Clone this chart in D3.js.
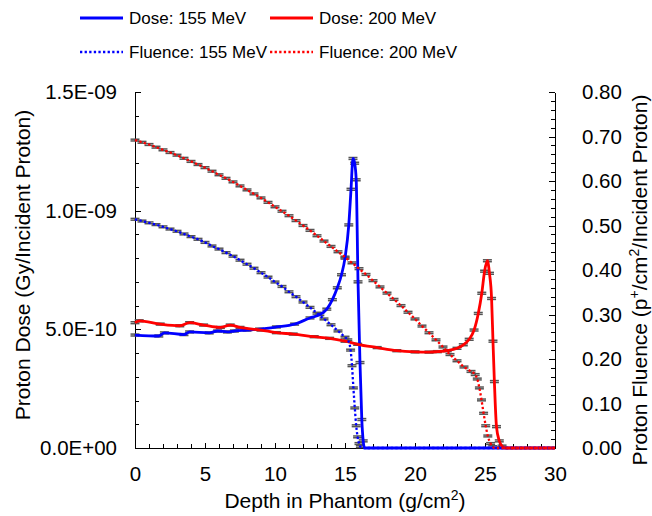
<!DOCTYPE html>
<html>
<head>
<meta charset="utf-8">
<script src="https://cdn.jsdelivr.net/npm/d3@7"></script>
<style>
  body { margin: 0; background: #fff; }
  text { font-family: "Liberation Sans", Arial, sans-serif; fill: #000; }
  .axis path, .axis line { stroke: #000; shape-rendering: crispEdges; }
  .axis path { stroke-width: 1.5px; }
</style>
</head>
<body>
<div class="plot_canvas"></div>
<script>

// [depth g/cm2, dose Gy/incident proton]
var dose155 = [[0,4.76e-10],[1.7,4.72e-10],[2.1,4.85e-10],[3.5,4.78e-10],[3.9,4.89e-10],[5.3,4.85e-10],
  [5.9,4.93e-10],[6.6,4.89e-10],[7.1,4.93e-10],[8.0,4.97e-10],[8.9,5.01e-10],[10.1,5.10e-10],[11.4,5.22e-10],
  [12.5,5.48e-10],[13.2,5.62e-10],[13.7,5.85e-10],[14.1,6.25e-10],[14.45,6.75e-10],[14.75,7.3e-10],[15.0,8.0e-10],
  [15.27,9.4e-10],[15.43,10.9e-10],[15.57,12.2e-10],[15.69,12.0e-10],[15.8,11.3e-10],[15.93,7.0e-10],
  [16.07,3.6e-10],[16.2,1.2e-10],[16.3,0.3e-10],[16.4,0],[30,0]];

var dose200 = [[0,5.28e-10],[0.3,5.36e-10],[1.8,5.22e-10],[3.2,5.15e-10],[3.9,5.28e-10],[4.9,5.18e-10],
  [6.1,5.08e-10],[6.8,5.18e-10],[7.5,5.08e-10],[9.0,4.97e-10],[10.1,4.86e-10],[11.3,4.80e-10],[12.8,4.69e-10],
  [13.9,4.62e-10],[15.0,4.50e-10],[15.9,4.37e-10],[17.3,4.23e-10],[18.7,4.10e-10],[20.0,4.05e-10],[21.0,4.04e-10],
  [21.6,4.06e-10],[22.3,4.10e-10],[23.0,4.20e-10],[23.45,4.35e-10],[23.87,4.58e-10],[24.22,4.97e-10],[24.52,5.67e-10],
  [24.77,6.52e-10],[24.97,7.45e-10],[25.17,7.89e-10],[25.32,7.36e-10],[25.47,6.3e-10],[25.57,4.5e-10],
  [25.67,2.8e-10],[25.82,0.9e-10],[26.02,0.3e-10],[26.22,0.08e-10],[26.42,0],[30,0]];

// [depth g/cm2, fluence p+/cm2/incident proton]
var flu155 = [[0,0.514],[0.5,0.510],[1,0.506],[1.5,0.502],[2,0.497],[2.5,0.492],[3,0.487],[3.5,0.481],
  [4,0.475],[4.5,0.469],[5,0.462],[5.5,0.454],[6,0.447],[6.5,0.439],[7,0.431],[7.5,0.422],[8,0.413],
  [8.5,0.404],[9,0.394],[9.5,0.384],[10,0.373],[10.5,0.363],[11,0.351],[11.5,0.340],[12,0.328],[12.5,0.316],
  [13,0.303],[13.5,0.290],[14,0.277],[14.5,0.263],[15,0.249],[15.2,0.243],[15.4,0.220],[15.5,0.185],
  [15.6,0.135],[15.7,0.090],[15.8,0.050],[15.9,0.025],[16.0,0.010],[16.1,0.003],[16.2,0],[30,0]];

var flu200 = [[0,0.692],[0.5,0.687],[1,0.682],[1.5,0.676],[2,0.670],[2.5,0.664],[3,0.658],[3.5,0.651],
  [4,0.644],[4.5,0.637],[5,0.630],[5.5,0.622],[6,0.614],[6.5,0.606],[7,0.598],[7.5,0.589],[8,0.580],
  [8.5,0.571],[9,0.562],[9.5,0.552],[10,0.542],[10.5,0.532],[11,0.522],[11.5,0.511],[12,0.500],[12.5,0.489],
  [13,0.477],[13.5,0.465],[14,0.453],[14.5,0.441],[15,0.429],[15.5,0.416],[16,0.403],[16.5,0.390],[17,0.376],
  [17.5,0.362],[18,0.348],[18.5,0.334],[19,0.320],[19.5,0.305],[20,0.290],[20.5,0.274],[21,0.259],[21.5,0.243],
  [22,0.227],[22.5,0.210],[23,0.196],[23.5,0.182],[24,0.172],[24.3,0.165],[24.45,0.155],[24.6,0.135],
  [24.75,0.108],[24.9,0.078],[25.05,0.050],[25.2,0.027],[25.4,0.010],[25.55,0.003],[25.7,0],[30,0]];

var doseErr = 4e-12;
var fluErr = 0.002;

var xTicks = [0, 5, 10, 15, 20, 25, 30];
var doseTicks = [0, 5e-10, 1e-9, 1.5e-9];
var fluTicks = [0, 0.1, 0.2, 0.3, 0.4, 0.5, 0.6, 0.7, 0.8];

var legendLabels = ["Dose: 155 MeV", "Dose: 200 MeV", "Fluence: 155 MeV", "Fluence: 200 MeV"];
var legendColors = ["#0000ff", "#ff0000", "#0000ff", "#ff0000"];

var W = 652, H = 516;
var plot = {left: 135, right: 555, top: 92, bottom: 448};

var svg = d3.select(".plot_canvas").append("svg")
  .attr("width", W).attr("height", H);

var xScale = d3.scaleLinear().domain([0, 30]).range([plot.left, plot.right]);
var yDose = d3.scaleLinear().domain([0, 1.5e-9]).range([plot.bottom, plot.top]);
var yFlu = d3.scaleLinear().domain([0, 0.8]).range([plot.bottom, plot.top]);

function expFormat(v) {
  var s = v.toExponential(1).split("e");
  var e = parseInt(s[1], 10);
  var ee = String(Math.abs(e));
  if (ee.length < 2) ee = "0" + ee;
  return s[0] + "E" + (e < 0 ? "-" : "+") + ee;
}

// minor ticks
svg.append("g").attr("class", "axis")
  .attr("transform", "translate(" + plot.left + ",0)")
  .call(d3.axisLeft(yDose).tickValues(d3.range(0, 16).map(function(i) { return i * 1e-10; }))
    .tickSize(-4).tickSizeOuter(0).tickFormat(""));
svg.append("g").attr("class", "axis")
  .attr("transform", "translate(" + plot.right + ",0)")
  .call(d3.axisRight(yFlu).tickValues(d3.range(0, 41).map(function(i) { return i * 0.02; }))
    .tickSize(-4).tickSizeOuter(0).tickFormat(""));
svg.append("g").attr("class", "axis")
  .attr("transform", "translate(0," + plot.bottom + ")")
  .call(d3.axisBottom(xScale).tickValues(d3.range(0, 31))
    .tickSize(-4).tickSizeOuter(0).tickFormat(""));

// major ticks + labels
svg.append("g").attr("class", "axis")
  .attr("transform", "translate(" + plot.left + ",0)")
  .call(d3.axisLeft(yDose).tickValues(doseTicks).tickSize(-6).tickSizeOuter(0)
    .tickPadding(18).tickFormat(expFormat));
svg.append("g").attr("class", "axis")
  .attr("transform", "translate(" + plot.right + ",0)")
  .call(d3.axisRight(yFlu).tickValues(fluTicks).tickSize(-6).tickSizeOuter(0)
    .tickPadding(27).tickFormat(d3.format(".2f")));
svg.append("g").attr("class", "axis")
  .attr("transform", "translate(0," + plot.bottom + ")")
  .call(d3.axisBottom(xScale).tickValues(xTicks).tickSize(-5).tickSizeOuter(0)
    .tickPadding(18).tickFormat(d3.format("d")));

svg.selectAll(".axis text").style("font-size", "20.5px").style("font-family", "'Liberation Sans', Arial, sans-serif");

// axis titles
var xt = svg.append("text").attr("x", 345).attr("y", 508)
  .attr("text-anchor", "middle").style("font-size", "21px");
xt.append("tspan").text("Depth in Phantom (g/cm");
xt.append("tspan").attr("dy", -8).style("font-size", "14px").text("2");
xt.append("tspan").attr("dy", 8).text(")");

svg.append("text")
  .attr("transform", "translate(30,265) rotate(-90)")
  .attr("text-anchor", "middle").style("font-size", "21px")
  .text("Proton Dose (Gy/Incident Proton)");

var rt = svg.append("text")
  .attr("transform", "translate(647,280) rotate(-90)")
  .attr("text-anchor", "middle").style("font-size", "21px");
rt.append("tspan").text("Proton Fluence (p");
rt.append("tspan").attr("dy", -8).style("font-size", "14px").text("+");
rt.append("tspan").attr("dy", 8).text("/cm");
rt.append("tspan").attr("dy", -8).style("font-size", "14px").text("2");
rt.append("tspan").attr("dy", 8).text("/Incident Proton)");

// error bars
function errorBars(data, yScale, err) {
  var pts = data.filter(function(d) { return d[1] > 0; });
  var g = svg.append("g").attr("stroke", "#555").attr("stroke-width", 1.5);
  g.selectAll(".v").data(pts).enter().append("line")
    .attr("x1", function(d) { return xScale(d[0]); })
    .attr("x2", function(d) { return xScale(d[0]); })
    .attr("y1", function(d) { return yScale(d[1] - err); })
    .attr("y2", function(d) { return yScale(d[1] + err); });
  g.selectAll(".lo").data(pts).enter().append("line")
    .attr("x1", function(d) { return xScale(d[0]) - 4.5; })
    .attr("x2", function(d) { return xScale(d[0]) + 4.5; })
    .attr("y1", function(d) { return yScale(d[1] - err); })
    .attr("y2", function(d) { return yScale(d[1] - err); });
  g.selectAll(".hi").data(pts).enter().append("line")
    .attr("x1", function(d) { return xScale(d[0]) - 4.5; })
    .attr("x2", function(d) { return xScale(d[0]) + 4.5; })
    .attr("y1", function(d) { return yScale(d[1] + err); })
    .attr("y2", function(d) { return yScale(d[1] + err); });
}

errorBars(dose155, yDose, doseErr);
errorBars(dose200, yDose, doseErr);
errorBars(flu155, yFlu, fluErr);
errorBars(flu200, yFlu, fluErr);

var doseLine = d3.line().curve(d3.curveMonotoneX)
  .x(function(d) { return xScale(d[0]); })
  .y(function(d) { return yDose(d[1]); });
var fluLine = d3.line().curve(d3.curveMonotoneX)
  .x(function(d) { return xScale(d[0]); })
  .y(function(d) { return yFlu(d[1]); });

svg.append("path").attr("d", doseLine(dose155))
  .attr("fill", "none").attr("stroke", "#0000ff").attr("stroke-width", 2.8);
svg.append("path").attr("d", doseLine(dose200))
  .attr("fill", "none").attr("stroke", "#ff0000").attr("stroke-width", 2.8);
svg.append("path").attr("d", fluLine(flu155))
  .attr("fill", "none").attr("stroke", "#0000ff").attr("stroke-width", 2.3)
  .attr("stroke-dasharray", "2.3,2.3");
svg.append("path").attr("d", fluLine(flu200))
  .attr("fill", "none").attr("stroke", "#ff0000").attr("stroke-width", 2.3)
  .attr("stroke-dasharray", "2.3,2.3");

// legend
var leg = svg.append("g").selectAll("g").data(legendLabels).enter().append("g")
  .attr("transform", function(d, i) { return "translate(" + (80 + (i % 2) * 190) + "," + (18 + Math.floor(i / 2) * 34) + ")"; });
leg.append("line").attr("x1", 0).attr("x2", 43).attr("y1", 0).attr("y2", 0)
  .attr("stroke", function(d, i) { return legendColors[i]; })
  .attr("stroke-width", function(d, i) { return i < 2 ? 3 : 2.3; })
  .attr("stroke-dasharray", function(d, i) { return i < 2 ? null : "2.3,2.3"; });
leg.append("text").attr("x", 49).attr("y", 0).attr("dy", "0.36em")
  .style("font-size", "17px").text(function(d) { return d; });

</script>
</body>
</html>
